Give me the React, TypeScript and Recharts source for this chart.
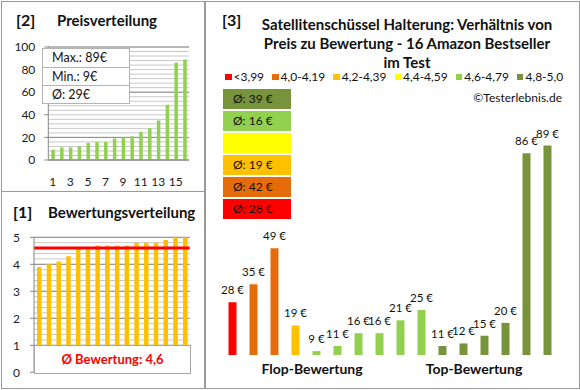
import React from 'react';
import { BarChart, Bar, XAxis, YAxis, CartesianGrid, Cell, LabelList, ReferenceLine } from 'recharts';

const FONT = 'Lato, "Open Sans", sans-serif';

// Products in chart [3] order (sorted by rating, then price)
const productIds = ['P1', 'P2', 'P3', 'P4', 'P5', 'P6', 'P7', 'P8', 'P9', 'P10', 'P11', 'P12', 'P13', 'P14', 'P15', 'P16'];
const productPrices = [28, 35, 49, 19, 9, 11, 16, 16, 21, 25, 11, 12, 15, 20, 86, 89];
const productRatings = [3.9, 4.0, 4.1, 4.3, 4.6, 4.6, 4.7, 4.7, 4.7, 4.7, 4.8, 4.8, 4.8, 4.9, 5.0, 5.0];

// Distribution charts
const rankLabels = [1, 2, 3, 4, 5, 6, 7, 8, 9, 10, 11, 12, 13, 14, 15, 16];
const sortedPrices = [9, 11, 11, 12, 15, 16, 16, 19, 20, 21, 25, 28, 35, 49, 86, 89];
const sortedRatings = [3.9, 4.0, 4.1, 4.3, 4.6, 4.6, 4.7, 4.7, 4.7, 4.7, 4.8, 4.8, 4.8, 4.9, 5.0, 5.0];

const priceMajorTicks = [0, 20, 40, 60, 80, 100];
const priceMinorTicks = [0, 4, 8, 12, 16, 20, 24, 28, 32, 36, 40, 44, 48, 52, 56, 60, 64, 68, 72, 76, 80, 84, 88, 92, 96, 100];
const ratingMajorTicks = [0, 1, 2, 3, 4, 5];
const ratingMinorTicks = [0, 0.2, 0.4, 0.6, 0.8, 1, 1.2, 1.4, 1.6, 1.8, 2, 2.2, 2.4, 2.6, 2.8, 3, 3.2, 3.4, 3.6, 3.8, 4, 4.2, 4.4, 4.6, 4.8, 5];

// Rating classes
const classLabels = ['<3,99', '4,0-4,19', '4,2-4,39', '4,4-4,59', '4,6-4,79', '4,8-5,0'];
const classColors = ['#FF0000', '#E46C0A', '#FFC000', '#FFFF00', '#92D050', '#77933C'];
const classLower = [0, 4.0, 4.2, 4.4, 4.6, 4.8];

const classOf = (r: number) => {
  let idx = 0;
  classLower.forEach((lo, i) => {
    if (r >= lo - 1e-9) idx = i;
  });
  return idx;
};

const mainData = productIds.map((id, i) => ({ id, price: productPrices[i], rating: productRatings[i] }));
const priceData = rankLabels.map((rank, i) => ({ rank, price: sortedPrices[i] }));
const ratingData = rankLabels.map((rank, i) => ({ rank, rating: sortedRatings[i] }));

const classAverages = classLabels.map((_, ci) => {
  const vals = mainData.filter((d) => classOf(d.rating) === ci).map((d) => d.price);
  if (!vals.length) return null;
  return Math.round(vals.reduce((a, b) => a + b, 0) / vals.length);
});

const maxPrice = Math.max(...sortedPrices);
const minPrice = Math.min(...sortedPrices);
const avgPrice = Math.round(sortedPrices.reduce((a, b) => a + b, 0) / sortedPrices.length);
const avgRating = sortedRatings.reduce((a, b) => a + b, 0) / sortedRatings.length;

const BORDER = '#9a9a9a';
const AXIS = '#868686';
const MINOR = '#c8c8c8';
const MAJOR = '#8c8c8c';
const TICK_STYLE = { fontSize: 12, fill: '#1a1a2a', fontFamily: FONT };

const abs = (left: number, top: number, extra: React.CSSProperties = {}): React.CSSProperties => ({
  position: 'absolute',
  left,
  top,
  ...extra,
});

const scaleOf = (axis: any) => {
  const s = axis && axis.scale;
  return (v: number): number => {
    if (typeof s === 'function') return s(v);
    if (s && typeof s.map === 'function') return s.map(v);
    return 0;
  };
};

const minorGen = (ticks: number[]) => (props: any) => {
  const f = scaleOf(props.yAxis);
  return ticks.map((t) => f(t));
};

const PriceLabel = (p: any) => {
  const x = Number(p.x) + Number(p.width) / 2;
  const y = Number(p.y) - 8;
  return (
    <text x={x} y={y} textAnchor="middle" fontSize={11.5} fill="#111" fontFamily={FONT}>
      {`${p.value} €`}
    </text>
  );
};

const titleStyle: React.CSSProperties = { fontSize: 15, fontWeight: 700, lineHeight: '18px', color: '#111', whiteSpace: 'nowrap' };

export default function App() {
  return (
    <div style={{ position: 'fixed', left: 0, top: 0, width: 580, height: 390, background: '#fff', fontFamily: FONT, overflow: 'hidden' }}>
      {/* Panel borders */}
      <div style={abs(1, 1, { width: 204, height: 388, border: `1px solid ${BORDER}`, boxSizing: 'border-box' })} />
      <div style={abs(1, 191, { width: 204, height: 1, background: BORDER })} />
      <div style={abs(205, 1, { width: 375, height: 388, border: `1px solid ${BORDER}`, boxSizing: 'border-box' })} />

      {/* Panel [2] titles */}
      <div style={abs(16, 11, { ...titleStyle, fontSize: 16 })}>[2]</div>
      <div style={abs(57, 11, titleStyle)}>Preisverteilung</div>

      {/* Price distribution chart */}
      <div style={abs(0, 0)}>
        <BarChart width={580} height={390} data={priceData} margin={{ top: 47, right: 391, bottom: 205, left: 8.3 }}>
          <CartesianGrid vertical={false} stroke={MINOR} horizontalCoordinatesGenerator={minorGen(priceMinorTicks)} />
          <CartesianGrid vertical={false} stroke={MAJOR} />
          <XAxis dataKey="rank" interval={1} tickLine={false} axisLine={{ stroke: AXIS }} tick={TICK_STYLE} tickMargin={11} height={25} />
          <YAxis
            type="number"
            domain={[0, 100]}
            ticks={priceMajorTicks}
            width={40}
            axisLine={{ stroke: AXIS }}
            tickLine={{ stroke: AXIS }}
            tickSize={4}
            tickMargin={9}
            tick={TICK_STYLE}
            allowDataOverflow
          />
          <Bar dataKey="price" fill="#92D050" barSize={3.5} isAnimationActive={false} />
        </BarChart>
      </div>

      {/* Price info box */}
      <div style={abs(42, 48, { width: 88, border: '1px solid #b4b4b4', background: '#fff', boxSizing: 'border-box', fontSize: 12.5, color: '#111' })}>
        {[`Max.: ${maxPrice}€`, `Min.: ${minPrice}€`, `Ø: ${avgPrice}€`].map((t, i) => (
          <div key={i} style={{ height: i < 2 ? 17.5 : 17, lineHeight: '17px', paddingLeft: 9, borderTop: i ? '1px solid #b4b4b4' : 'none' }}>
            {t}
          </div>
        ))}
      </div>

      {/* Panel [1] titles */}
      <div style={abs(13, 203, { ...titleStyle, fontSize: 16 })}>[1]</div>
      <div style={abs(48, 203, titleStyle)}>Bewertungsverteilung</div>

      {/* Rating distribution chart */}
      <div style={abs(0, 0)}>
        <BarChart width={580} height={390} data={ratingData} margin={{ top: 237.3, right: 390.3, bottom: 17.7, left: 4 }}>
          <CartesianGrid vertical={false} stroke={MINOR} horizontalCoordinatesGenerator={minorGen(ratingMinorTicks)} />
          <CartesianGrid vertical={false} stroke={MAJOR} />
          <XAxis dataKey="rank" hide />
          <YAxis
            type="number"
            domain={[0, 5]}
            ticks={ratingMajorTicks}
            width={30}
            axisLine={{ stroke: AXIS }}
            tickLine={{ stroke: AXIS }}
            tickSize={4}
            tickMargin={10}
            tick={TICK_STYLE}
            allowDataOverflow
          />
          <Bar dataKey="rating" fill="#FFC000" barSize={4.5} isAnimationActive={false} />
          <ReferenceLine y={avgRating} stroke="#FF0000" strokeWidth={3} />
        </BarChart>
      </div>

      {/* Average rating box */}
      <div
        style={abs(34, 345, {
          width: 157,
          height: 29,
          border: '1px solid #a8a8a8',
          background: '#fff',
          boxSizing: 'border-box',
          color: '#FF0000',
          fontWeight: 700,
          fontSize: 13,
          textAlign: 'center',
          lineHeight: '27px',
        })}
      >
        Ø Bewertung: {avgRating.toFixed(1).replace('.', ',')}
      </div>

      {/* Panel [3] */}
      <div style={abs(222, 11, { ...titleStyle, fontSize: 16 })}>[3]</div>
      <div style={abs(230, 15, { width: 354, textAlign: 'center', fontSize: 15, fontWeight: 700, lineHeight: '19px', color: '#111' })}>
        Satellitenschüssel Halterung: Verhältnis von
        <br />
        Preis zu Bewertung - 16 Amazon Bestseller
        <br />
        im Test
      </div>

      {/* Legend */}
      <div style={abs(225, 69, { display: 'flex', alignItems: 'center', fontSize: 12, lineHeight: '16px', color: '#111', whiteSpace: 'nowrap' })}>
        {classLabels.map((lab, i) => (
          <div key={lab} style={{ display: 'flex', alignItems: 'center', marginRight: 8 }}>
            <div style={{ width: 6.5, height: 6.5, background: classColors[i], marginRight: 2 }} />
            <span>{lab}</span>
          </div>
        ))}
      </div>

      <div style={abs(440, 90, { width: 122, textAlign: 'right', fontSize: 12, lineHeight: '16px', color: '#111' })}>©Testerlebnis.de</div>

      {/* Class average boxes */}
      <div style={abs(223, 89, { display: 'flex', flexDirection: 'column', gap: 2 })}>
        {classLabels
          .map((_, i) => i)
          .reverse()
          .map((ci) => (
            <div key={ci} style={{ width: 68, height: 20, background: classColors[ci], fontSize: 12, lineHeight: '20px', paddingLeft: 10, boxSizing: 'border-box', color: '#111' }}>
              {classAverages[ci] !== null ? `Ø: ${classAverages[ci]} €` : ''}
            </div>
          ))}
      </div>

      {/* Main chart */}
      <div style={abs(0, 0)}>
        <BarChart width={580} height={390} data={mainData} margin={{ top: 117.3, right: 22.5, bottom: 35, left: 221.5 }}>
          <XAxis dataKey="id" hide />
          <YAxis type="number" domain={[7.5, 100]} hide allowDataOverflow />
          <Bar dataKey="price" barSize={8} isAnimationActive={false}>
            {mainData.map((d) => (
              <Cell key={d.id} fill={classColors[classOf(d.rating)]} />
            ))}
            <LabelList dataKey="price" content={PriceLabel} />
          </Bar>
        </BarChart>
      </div>

      <div style={abs(252, 361, { width: 120, textAlign: 'center', fontSize: 14, fontWeight: 700, lineHeight: '16px', color: '#111' })}>Flop-Bewertung</div>
      <div style={abs(414, 361, { width: 120, textAlign: 'center', fontSize: 14, fontWeight: 700, lineHeight: '16px', color: '#111' })}>Top-Bewertung</div>
    </div>
  );
}
